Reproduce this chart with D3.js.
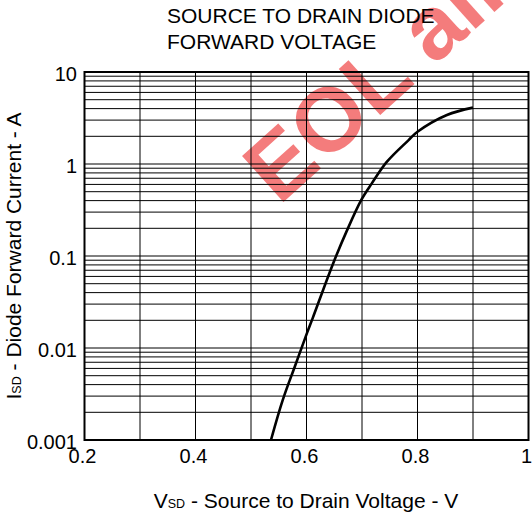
<!DOCTYPE html>
<html>
<head>
<meta charset="utf-8">
<script src="https://cdn.jsdelivr.net/npm/d3@7"></script>
<style>
  body { margin: 0; background: #fff; }
  text { font-family: "Liberation Sans", Arial, sans-serif; fill: #000; }
</style>
</head>
<body>
<svg id="svg" width="532" height="516"></svg>
<script>
const vsd = [0.536, 0.557, 0.579, 0.601, 0.611, 0.648, 0.672, 0.699, 0.718, 0.745, 0.784, 0.80, 0.853, 0.90];
const isd = [0.001, 0.0027, 0.0063, 0.0146, 0.021, 0.083, 0.184, 0.41, 0.62, 1.06, 1.82, 2.24, 3.41, 4.1];

const xTicks = [0.2, 0.4, 0.6, 0.8, 1];
const xTickLabels = ["0.2", "0.4", "0.6", "0.8", "1"];
const xGrid = [0.3, 0.4, 0.5, 0.6, 0.7, 0.8, 0.9];
const yTicks = [0.001, 0.01, 0.1, 1, 10];
const yTickLabels = ["0.001", "0.01", "0.1", "1", "10"];
const titleLines = ["SOURCE TO DRAIN DIODE", "FORWARD VOLTAGE"];

const svg = d3.select("#svg");

const x = d3.scaleLinear().domain([0.2, 1]).range([84.5, 528.5]);
const y = d3.scaleLog().domain([0.001, 10]).range([440, 72]);

// watermark sits under everything
svg.append("text")
    .attr("transform", "translate(279,206) rotate(-42)")
    .style("font-size", "90px")
    .style("font-weight", "bold")
    .style("fill", "#f25c5c")
    .style("opacity", 0.8)
    .text("EOL alldatasheet");

// horizontal grid, 2..9 per decade
const yGrid = [];
for (let d = 0.001; d < 10; d *= 10) {
    for (let k = 1; k <= 9; k++) {
        const v = +(d * k).toPrecision(3);
        if (v > 0.001) yGrid.push(v);
    }
}

const grid = svg.append("g");
grid.selectAll(".hg")
    .data(yGrid)
    .join("line")
    .attr("x1", x(0.2))
    .attr("x2", x(1))
    .attr("y1", d => y(d))
    .attr("y2", d => y(d))
    .style("stroke", "black")
    .style("stroke-width", 1);

grid.selectAll(".vg")
    .data(xGrid)
    .join("line")
    .attr("x1", d => x(d))
    .attr("x2", d => x(d))
    .attr("y1", y(10))
    .attr("y2", y(0.001))
    .style("stroke", "black")
    .style("stroke-width", 1);

svg.append("rect")
    .attr("x", x(0.2))
    .attr("y", y(10))
    .attr("width", x(1) - x(0.2))
    .attr("height", y(0.001) - y(10))
    .style("fill", "none")
    .style("stroke", "black")
    .style("stroke-width", 2);

// the curve
const line = d3.line()
    .x(d => x(d[0]))
    .y(d => y(d[1]))
    .curve(d3.curveCatmullRom.alpha(0.5));

svg.append("path")
    .datum(d3.zip(vsd, isd))
    .attr("d", line)
    .style("fill", "none")
    .style("stroke", "black")
    .style("stroke-width", 2.6);

// tick labels
svg.selectAll(".xl")
    .data(xTicks)
    .join("text")
    .attr("x", d => x(d) - 2)
    .attr("y", 463)
    .attr("text-anchor", "middle")
    .style("font-size", "20px")
    .text((d, i) => xTickLabels[i]);

svg.selectAll(".yl")
    .data(yTicks)
    .join("text")
    .attr("x", 77)
    .attr("y", d => y(d) + 8.5)
    .attr("text-anchor", "end")
    .style("font-size", "20px")
    .text((d, i) => yTickLabels[i]);

// title
svg.selectAll(".title")
    .data(titleLines)
    .join("text")
    .attr("x", 167)
    .attr("y", (d, i) => 23 + i * 25.6)
    .style("font-size", "21px")
    .text(d => d);

// axis titles
const xt = svg.append("text")
    .attr("x", 306)
    .attr("y", 508)
    .attr("text-anchor", "middle")
    .style("font-size", "21px");
xt.append("tspan").text("V");
xt.append("tspan").style("font-size", "12.5px").text("SD");
xt.append("tspan").text(" - Source to Drain Voltage - V");

const yt = svg.append("text")
    .attr("transform", "translate(21,256) rotate(-90)")
    .attr("text-anchor", "middle")
    .style("font-size", "21px");
yt.append("tspan").text("I");
yt.append("tspan").style("font-size", "12.5px").text("SD");
yt.append("tspan").text(" - Diode Forward Current - A");
</script>
</body>
</html>
